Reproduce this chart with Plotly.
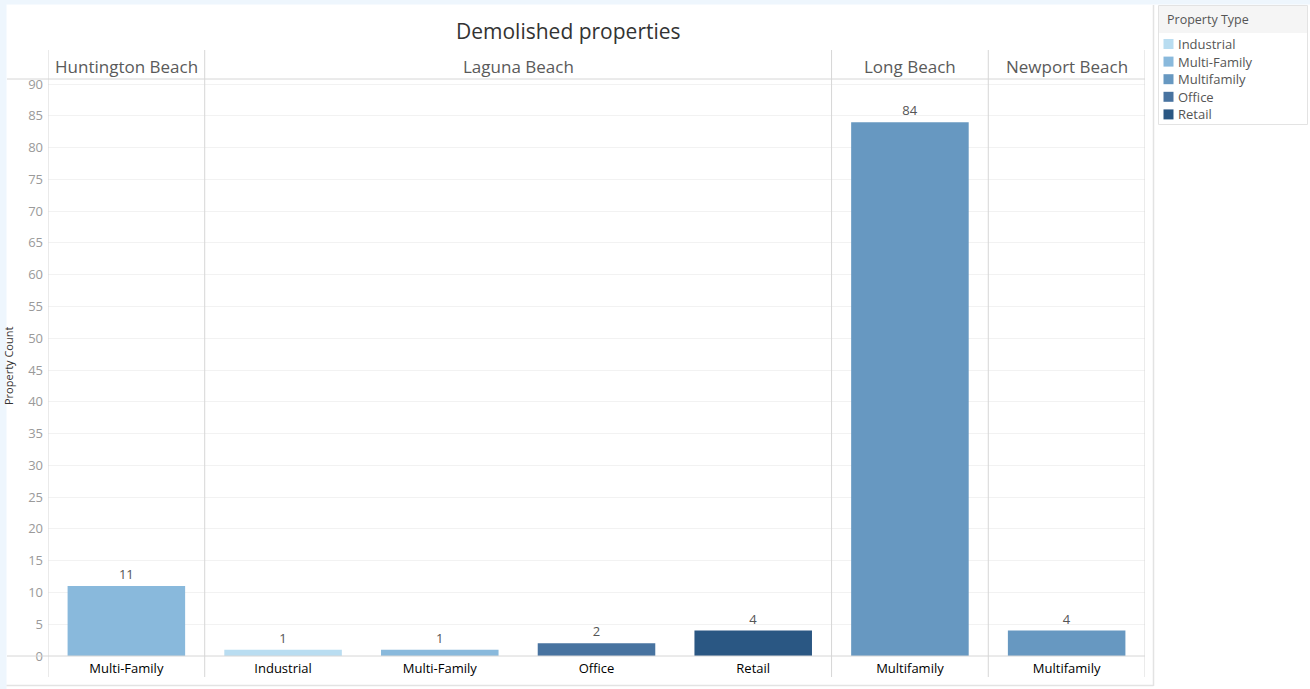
import plotly.graph_objects as go

# ---- data ----
cities = ["Huntington Beach", "Laguna Beach", "Laguna Beach", "Laguna Beach",
          "Laguna Beach", "Long Beach", "Newport Beach"]
prop_types = ["Multi-Family", "Industrial", "Multi-Family", "Office",
              "Retail", "Multifamily", "Multifamily"]
counts = [11, 1, 1, 2, 4, 84, 4]
legend_order = ["Industrial", "Multi-Family", "Multifamily", "Office", "Retail"]
type_colors = {
    "Industrial": "#b9ddf1",
    "Multi-Family": "#89b9dc",
    "Multifamily": "#6798c1",
    "Office": "#4873a0",
    "Retail": "#2a5783",
}
y_ticks = list(range(0, 95, 5))

# ---- layout geometry (pixels) ----
W, H = 1310, 689
L, R, T, B = 48, 1145, 79, 656
FONT = "Open Sans"


def px2x(px):
    return (px - L) / (R - L)


def py2y(py):
    return (B - py) / (B - T)


positions = list(range(len(counts)))

fig = go.Figure()
for t in legend_order:
    idx = [i for i, pt in enumerate(prop_types) if pt == t]
    fig.add_trace(go.Bar(
        x=[positions[i] for i in idx],
        y=[counts[i] for i in idx],
        name=t,
        marker=dict(color=type_colors[t], line=dict(width=0)),
        width=0.75,
        text=[counts[i] for i in idx],
        textposition="outside",
        textfont=dict(family=FONT, size=13, color="#555555"),
        cliponaxis=False,
        hoverinfo="x+y+name",
        showlegend=False,
    ))

# column groups (city panels)
groups = []
for i, c in enumerate(cities):
    if groups and groups[-1][0] == c:
        groups[-1][2] = i
    else:
        groups.append([c, i, i])

shapes = []
annotations = []

# background strips
shapes.append(dict(type="rect", xref="paper", yref="paper",
                   x0=px2x(-2), x1=px2x(6.5), y0=py2y(H + 2), y1=py2y(-2),
                   fillcolor="#eef6fd", line=dict(width=0), layer="below"))
shapes.append(dict(type="rect", xref="paper", yref="paper",
                   x0=px2x(-2), x1=px2x(W + 2), y0=py2y(4.5), y1=py2y(-2),
                   fillcolor="#eef6fd", line=dict(width=0), layer="below"))
# main-area borders
shapes.append(dict(type="line", xref="paper", yref="paper",
                   x0=px2x(1153.5), x1=px2x(1153.5), y0=py2y(686), y1=py2y(5),
                   line=dict(color="#e3e3e3", width=1.5)))
shapes.append(dict(type="line", xref="paper", yref="paper",
                   x0=px2x(6.5), x1=px2x(1153.5), y0=py2y(685.5), y1=py2y(685.5),
                   line=dict(color="#e3e3e3", width=1.5)))

# header bottom and baseline
for yy in (1.0, 0.0):
    shapes.append(dict(type="line", xref="paper", yref="paper",
                       x0=px2x(7), x1=1.0, y0=yy, y1=yy,
                       line=dict(color="#d6d6d6", width=1)))

# panel dividers and headers
dividers = [groups[0][1] - 0.5] + [g[2] + 0.5 for g in groups]
for d in dividers:
    shapes.append(dict(type="line", xref="x", yref="paper",
                       x0=d, x1=d, y0=py2y(677), y1=py2y(50),
                       line=dict(color="#d6d6d6", width=1)))
for name, a, b in groups:
    annotations.append(dict(x=(a + b) / 2, xref="x", y=py2y(67), yref="paper",
                            text=name, showarrow=False, xanchor="center",
                            yanchor="middle",
                            font=dict(family=FONT, size=17, color="#5a5a5a")))

# title
annotations.append(dict(x=px2x(568), xref="paper", y=py2y(31), yref="paper",
                        text="Demolished properties", showarrow=False,
                        xanchor="center", yanchor="middle",
                        font=dict(family=FONT, size=21, color="#333333")))
# y axis title
annotations.append(dict(x=px2x(8), xref="paper", y=py2y(366), yref="paper",
                        text="Property Count", showarrow=False, textangle=-90,
                        xanchor="center", yanchor="middle",
                        font=dict(family=FONT, size=11, color="#333333")))

# legend panel (drawn from the type/colour lists)
shapes.append(dict(type="rect", xref="paper", yref="paper",
                   x0=px2x(1158.5), x1=px2x(1307.5), y0=py2y(124.5), y1=py2y(5.5),
                   fillcolor="rgba(0,0,0,0)", line=dict(color="#e3e3e3", width=1)))
shapes.append(dict(type="rect", xref="paper", yref="paper",
                   x0=px2x(1159), x1=px2x(1307), y0=py2y(33), y1=py2y(6),
                   fillcolor="#f5f5f5", line=dict(width=0), layer="below"))
annotations.append(dict(x=px2x(1165), xref="paper", y=py2y(20), yref="paper",
                        text="Property Type", showarrow=False,
                        xanchor="left", yanchor="middle",
                        font=dict(family=FONT, size=12.5, color="#555555")))
for k, t in enumerate(legend_order):
    cy = 44 + k * 17.6
    shapes.append(dict(type="rect", xref="paper", yref="paper",
                       x0=px2x(1163.5), x1=px2x(1173.5),
                       y0=py2y(cy + 5), y1=py2y(cy - 5),
                       fillcolor=type_colors[t], line=dict(width=0)))
    annotations.append(dict(x=px2x(1176), xref="paper", y=py2y(cy), yref="paper",
                            text=t, showarrow=False,
                            xanchor="left", yanchor="middle",
                            font=dict(family=FONT, size=13, color="#555555")))

fig.update_layout(
    width=W, height=H,
    margin=dict(l=L, r=W - R, t=T, b=H - B, pad=0, autoexpand=False),
    paper_bgcolor="white",
    plot_bgcolor="white",
    barmode="overlay",
    font=dict(family=FONT, color="#333333"),
    showlegend=False,
    xaxis=dict(
        range=[-0.5, len(counts) - 0.5],
        tickmode="array", tickvals=positions, ticktext=prop_types,
        showgrid=False, zeroline=False, showline=False, ticks="",
        ticklabelstandoff=3,
        tickfont=dict(family=FONT, size=13, color="#000000"),
        fixedrange=True,
    ),
    yaxis=dict(
        range=[0, 90 * (B - T) / (B - 84)],
        tickmode="array", tickvals=y_ticks,
        showgrid=True, gridcolor="#f2f2f2", gridwidth=1,
        zeroline=False, showline=False, ticks="",
        ticklabelstandoff=4,
        tickfont=dict(family=FONT, size=13, color="#9a9a9a"),
        fixedrange=True,
    ),
    shapes=shapes,
    annotations=annotations,
)

fig.write_html("out.html")
